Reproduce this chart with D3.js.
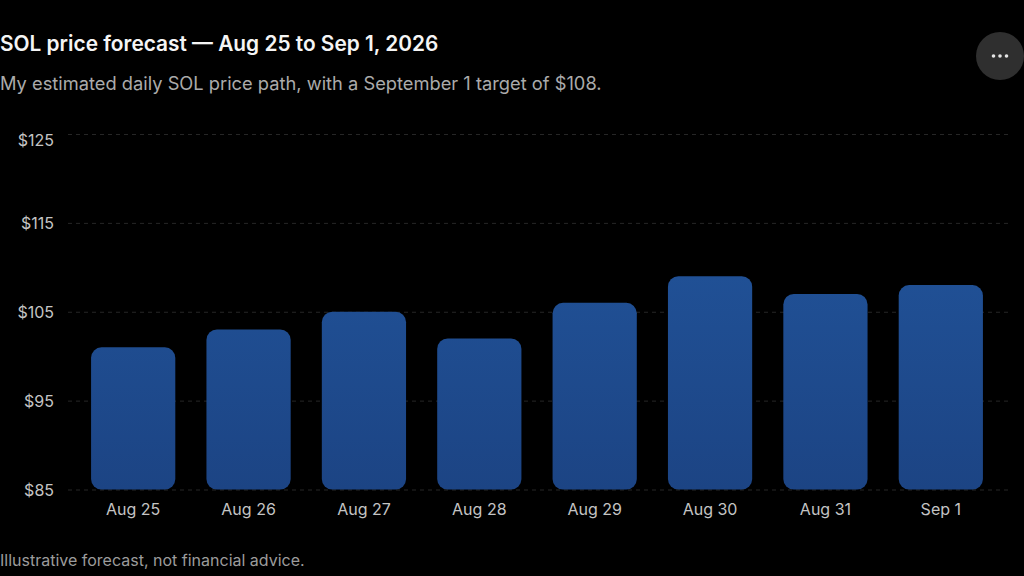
<!DOCTYPE html>
<html>
<head>
<meta charset="utf-8">
<script src="https://cdn.jsdelivr.net/npm/d3@7"></script>
<style>
  html, body { margin: 0; padding: 0; background: #000; overflow: hidden; }
  text { font-family: Inter, "Noto Sans", sans-serif; }
</style>
</head>
<body>
<svg id="chart"></svg>
<script>
var days = ["Aug 25", "Aug 26", "Aug 27", "Aug 28", "Aug 29", "Aug 30", "Aug 31", "Sep 1"];
var prices = [101, 103, 105, 102, 106, 109, 107, 108];
var priceTicks = [85, 95, 105, 115, 125];

var width = 1024;
var height = 576;

var svg = d3.select("#chart")
            .attr("width", width)
            .attr("height", height);

var x = d3.scaleBand()
          .domain(days)
          .range([75.5, 998.5])
          .paddingInner(0.27)
          .paddingOuter(0.135);

var y = d3.scaleLinear()
          .domain([85, 125])
          .range([489.5, 134]);

var grad = svg.append("defs").append("linearGradient")
              .attr("id", "barFill")
              .attr("gradientUnits", "userSpaceOnUse")
              .attr("x1", 0).attr("x2", 0)
              .attr("y1", y(109)).attr("y2", y(85));
grad.append("stop").attr("offset", "0%").attr("stop-color", "#205095");
grad.append("stop").attr("offset", "100%").attr("stop-color", "#1c4484");

// title block
svg.append("text").text("SOL price forecast \u2014 Aug 25 to Sep 1, 2026")
   .attr("x", 0).attr("y", 51)
   .attr("font-size", "20.85px").attr("font-weight", 600).attr("fill", "#f5f5f5");
svg.append("text").text("My estimated daily SOL price path, with a September 1 target of $108.")
   .attr("x", 0).attr("y", 89.5)
   .attr("font-size", "18.3px").attr("fill", "#ababab");

// gridlines + y labels
var yAxis = d3.axisLeft(y)
              .tickValues(priceTicks)
              .tickFormat(function(d){ return "$" + d; })
              .tickSize(0)
              .tickPadding(14);
var yG = svg.append("g").attr("transform", "translate(68,0)").call(yAxis);
yG.select(".domain").remove();
yG.selectAll("text")
  .attr("font-size", "16px").attr("fill", "#c4c4c4")
  .attr("dy", "0.35em")
  .attr("y", function(d){ return d == 125 ? 6 : 0; });
yG.selectAll(".tick").append("line")
  .attr("x1", 0).attr("x2", 940)
  .attr("stroke", "#262626")
  .attr("stroke-dasharray", "4 4");

// bars
svg.selectAll("rect.bar")
   .data(prices)
   .enter()
   .append("rect")
   .attr("class", "bar")
   .attr("x", function(d, i){ return x(days[i]); })
   .attr("y", function(d){ return y(d); })
   .attr("width", x.bandwidth())
   .attr("height", function(d){ return y(85) - y(d); })
   .attr("rx", 10.5)
   .attr("fill", "url(#barFill)");

// x labels
var xAxis = d3.axisBottom(x).tickSize(0).tickPadding(14);
var xG = svg.append("g").attr("transform", "translate(0,489.5)").call(xAxis);
xG.select(".domain").remove();
xG.selectAll("text").attr("font-size", "16px").attr("fill", "#c4c4c4");

// footnote
svg.append("text").text("Illustrative forecast, not financial advice.")
   .attr("x", 0).attr("y", 566)
   .attr("font-size", "16px").attr("fill", "#9c9c9c");

// menu button
var menuDots = [-6.5, 0, 6.5];
svg.append("circle")
   .attr("cx", 1000).attr("cy", 56).attr("r", 24)
   .attr("fill", "#2f2f2f");
svg.selectAll("circle.dot")
   .data(menuDots)
   .enter()
   .append("circle")
   .attr("class", "dot")
   .attr("cx", function(d){ return 1000 + d; })
   .attr("cy", 56).attr("r", 1.8)
   .attr("fill", "#e6e6e6");
</script>
</body>
</html>
